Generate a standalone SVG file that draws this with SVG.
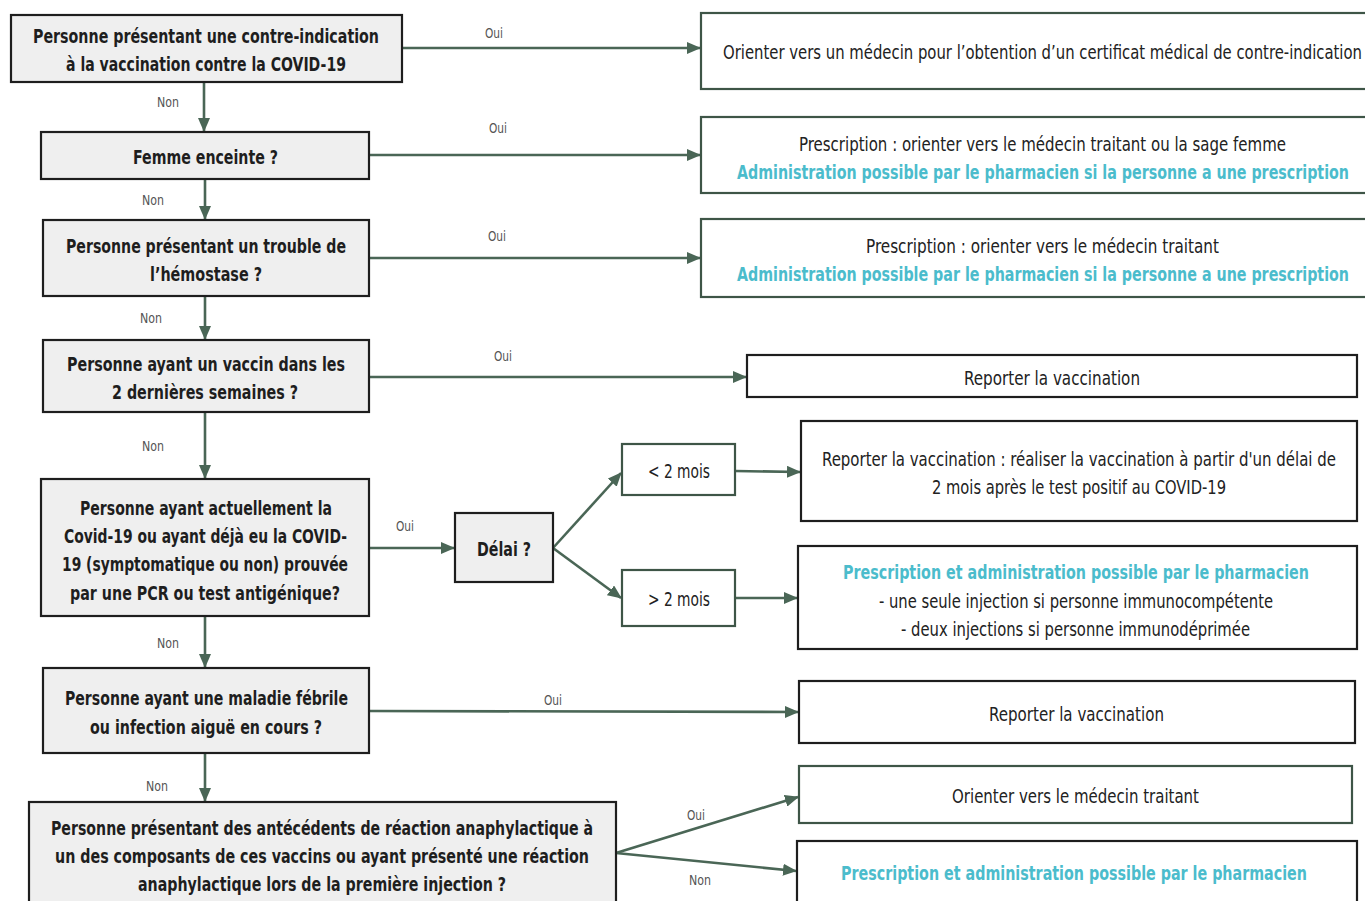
<svg xmlns="http://www.w3.org/2000/svg" width="1365" height="901" viewBox="0 0 1365 901">
<defs>
<marker id="ah" markerUnits="userSpaceOnUse" markerWidth="14" markerHeight="12" refX="13" refY="6" orient="auto">
<path d="M0,0 L14,6 L0,12 Z" fill="#4a6656"/>
</marker>
<style>
.q{fill:#efefef;stroke:#1e1e1e;stroke-width:2.2}
.rd{fill:#fff;stroke:#1e1e1e;stroke-width:2.2}
.rg{fill:#fff;stroke:#3e5547;stroke-width:2.2}
.c{fill:none;stroke:#4a6656;stroke-width:2.6;marker-end:url(#ah)}
text{font-family:"Liberation Sans Narrow","DejaVu Sans Condensed","Liberation Sans",sans-serif;text-anchor:middle;lengthAdjust:spacingAndGlyphs}
.b{font-size:20px;font-weight:bold;fill:#1e1e1e}
.n{font-size:20px;fill:#222}
.cy{font-size:20px;font-weight:bold;fill:#4bbccc}
.l{font-size:14px;fill:#555}
</style>
</defs>
<g id="connectors">
<line class="c" x1="402" y1="48" x2="700" y2="48"/>
<line class="c" x1="204" y1="82" x2="204" y2="131"/>
<line class="c" x1="369" y1="155" x2="700" y2="155"/>
<line class="c" x1="205" y1="179" x2="205" y2="219"/>
<line class="c" x1="369" y1="258" x2="700" y2="258"/>
<line class="c" x1="205" y1="296" x2="205" y2="339"/>
<line class="c" x1="369" y1="377" x2="746" y2="377"/>
<line class="c" x1="205" y1="412" x2="205" y2="478"/>
<line class="c" x1="369" y1="548" x2="454" y2="548"/>
<line class="c" x1="553" y1="548" x2="621" y2="473"/>
<line class="c" x1="553" y1="548" x2="621" y2="598"/>
<line class="c" x1="735" y1="471" x2="800" y2="472"/>
<line class="c" x1="735" y1="598" x2="797" y2="598"/>
<line class="c" x1="205" y1="616" x2="205" y2="667"/>
<line class="c" x1="369" y1="711" x2="798" y2="712"/>
<line class="c" x1="205" y1="753" x2="205" y2="801"/>
<line class="c" x1="616" y1="853" x2="798" y2="797"/>
<line class="c" x1="616" y1="853" x2="796" y2="871"/>
<text class="l" x="494" y="38" textLength="18" lengthAdjust="spacingAndGlyphs">Oui</text>
<text class="l" x="168" y="107" textLength="22" lengthAdjust="spacingAndGlyphs">Non</text>
<text class="l" x="498" y="133" textLength="18" lengthAdjust="spacingAndGlyphs">Oui</text>
<text class="l" x="153" y="205" textLength="22" lengthAdjust="spacingAndGlyphs">Non</text>
<text class="l" x="497" y="241" textLength="18" lengthAdjust="spacingAndGlyphs">Oui</text>
<text class="l" x="151" y="323" textLength="22" lengthAdjust="spacingAndGlyphs">Non</text>
<text class="l" x="503" y="361" textLength="18" lengthAdjust="spacingAndGlyphs">Oui</text>
<text class="l" x="153" y="451" textLength="22" lengthAdjust="spacingAndGlyphs">Non</text>
<text class="l" x="405" y="531" textLength="18" lengthAdjust="spacingAndGlyphs">Oui</text>
<text class="l" x="168" y="648" textLength="22" lengthAdjust="spacingAndGlyphs">Non</text>
<text class="l" x="553" y="705" textLength="18" lengthAdjust="spacingAndGlyphs">Oui</text>
<text class="l" x="157" y="791" textLength="22" lengthAdjust="spacingAndGlyphs">Non</text>
<text class="l" x="696" y="820" textLength="18" lengthAdjust="spacingAndGlyphs">Oui</text>
<text class="l" x="700" y="885" textLength="22" lengthAdjust="spacingAndGlyphs">Non</text>
</g>
<g id="q1">
<rect class="q" x="11" y="15" width="391" height="67"/>
<text class="b" x="206" y="43" textLength="346" lengthAdjust="spacingAndGlyphs">Personne présentant une contre-indication</text>
<text class="b" x="206" y="71" textLength="280" lengthAdjust="spacingAndGlyphs">à la vaccination contre la COVID-19</text>
</g>
<g id="r1">
<rect class="rg" x="701" y="13" width="670" height="76"/>
<text class="n" x="1042.5" y="59" textLength="639" lengthAdjust="spacingAndGlyphs">Orienter vers un médecin pour l’obtention d’un certificat médical de contre-indication</text>
</g>
<g id="q2">
<rect class="q" x="41" y="132" width="328" height="47"/>
<text class="b" x="205.5" y="164" textLength="145" lengthAdjust="spacingAndGlyphs">Femme enceinte ?</text>
</g>
<g id="r2">
<rect class="rg" x="701" y="117" width="670" height="76"/>
<text class="n" x="1042.5" y="151" textLength="487" lengthAdjust="spacingAndGlyphs">Prescription : orienter vers le médecin traitant ou la sage femme</text>
<text class="cy" x="1043" y="179" textLength="612" lengthAdjust="spacingAndGlyphs">Administration possible par le pharmacien si la personne a une prescription</text>
</g>
<g id="q3">
<rect class="q" x="43" y="220" width="326" height="76"/>
<text class="b" x="206" y="253" textLength="280" lengthAdjust="spacingAndGlyphs">Personne présentant un trouble de</text>
<text class="b" x="206" y="281" textLength="112" lengthAdjust="spacingAndGlyphs">l’hémostase ?</text>
</g>
<g id="r3">
<rect class="rg" x="701" y="219" width="670" height="78"/>
<text class="n" x="1042.5" y="253" textLength="353" lengthAdjust="spacingAndGlyphs">Prescription : orienter vers le médecin traitant</text>
<text class="cy" x="1043" y="281" textLength="612" lengthAdjust="spacingAndGlyphs">Administration possible par le pharmacien si la personne a une prescription</text>
</g>
<g id="q4">
<rect class="q" x="43" y="340" width="326" height="72"/>
<text class="b" x="206" y="371" textLength="278" lengthAdjust="spacingAndGlyphs">Personne ayant un vaccin dans les</text>
<text class="b" x="205" y="399" textLength="186" lengthAdjust="spacingAndGlyphs">2 dernières semaines ?</text>
</g>
<g id="r4">
<rect class="rd" x="747" y="355" width="610" height="42"/>
<text class="n" x="1052" y="385" textLength="176" lengthAdjust="spacingAndGlyphs">Reporter la vaccination</text>
</g>
<g id="q5">
<rect class="q" x="41" y="479" width="328" height="137"/>
<text class="b" x="206" y="515" textLength="252" lengthAdjust="spacingAndGlyphs">Personne ayant actuellement la</text>
<text class="b" x="205.5" y="543" textLength="283" lengthAdjust="spacingAndGlyphs">Covid-19 ou ayant déjà eu la COVID-</text>
<text class="b" x="205" y="571" textLength="286" lengthAdjust="spacingAndGlyphs">19 (symptomatique ou non) prouvée</text>
<text class="b" x="205" y="600" textLength="270" lengthAdjust="spacingAndGlyphs">par une PCR ou test antigénique?</text>
</g>
<g id="delai">
<rect class="q" x="455" y="513" width="98" height="69"/>
<text class="b" x="504" y="556" textLength="54" lengthAdjust="spacingAndGlyphs">Délai ?</text>
</g>
<g id="moins2">
<rect class="rg" x="622" y="444" width="113" height="51"/>
<text class="n" x="679" y="478" textLength="62" lengthAdjust="spacingAndGlyphs">&lt; 2 mois</text>
</g>
<g id="plus2">
<rect class="rg" x="622" y="570" width="113" height="56"/>
<text class="n" x="679" y="606" textLength="62" lengthAdjust="spacingAndGlyphs">&gt; 2 mois</text>
</g>
<g id="r5a">
<rect class="rd" x="801" y="421" width="556" height="100"/>
<text class="n" x="1079" y="466" textLength="514" lengthAdjust="spacingAndGlyphs">Reporter la vaccination : réaliser la vaccination à partir d'un délai de</text>
<text class="n" x="1079" y="494" textLength="294" lengthAdjust="spacingAndGlyphs">2 mois après le test positif au COVID-19</text>
</g>
<g id="r5b">
<rect class="rd" x="798" y="546" width="559" height="103"/>
<text class="cy" x="1076" y="579" textLength="466" lengthAdjust="spacingAndGlyphs">Prescription et administration possible par le pharmacien</text>
<text class="n" x="1076" y="608" textLength="394" lengthAdjust="spacingAndGlyphs">- une seule injection si personne immunocompétente</text>
<text class="n" x="1075.5" y="636" textLength="349" lengthAdjust="spacingAndGlyphs">- deux injections si personne immunodéprimée</text>
</g>
<g id="q6">
<rect class="q" x="43" y="668" width="326" height="85"/>
<text class="b" x="206.5" y="705" textLength="283" lengthAdjust="spacingAndGlyphs">Personne ayant une maladie fébrile</text>
<text class="b" x="206" y="734" textLength="232" lengthAdjust="spacingAndGlyphs">ou infection aiguë en cours ?</text>
</g>
<g id="r6">
<rect class="rd" x="799" y="681" width="556" height="62"/>
<text class="n" x="1076.5" y="721" textLength="175" lengthAdjust="spacingAndGlyphs">Reporter la vaccination</text>
</g>
<g id="q7">
<rect class="q" x="29" y="802" width="587" height="110"/>
<text class="b" x="322" y="835" textLength="542" lengthAdjust="spacingAndGlyphs">Personne présentant des antécédents de réaction anaphylactique à</text>
<text class="b" x="322" y="863" textLength="534" lengthAdjust="spacingAndGlyphs">un des composants de ces vaccins ou ayant présenté une réaction</text>
<text class="b" x="322" y="891" textLength="368" lengthAdjust="spacingAndGlyphs">anaphylactique lors de la première injection ?</text>
</g>
<g id="r7a">
<rect class="rg" x="799" y="766" width="553" height="57"/>
<text class="n" x="1075.5" y="803" textLength="247" lengthAdjust="spacingAndGlyphs">Orienter vers le médecin traitant</text>
</g>
<g id="r7b">
<rect class="rd" x="797" y="841" width="560" height="70"/>
<text class="cy" x="1074" y="880" textLength="466" lengthAdjust="spacingAndGlyphs">Prescription et administration possible par le pharmacien</text>
</g>
</svg>
